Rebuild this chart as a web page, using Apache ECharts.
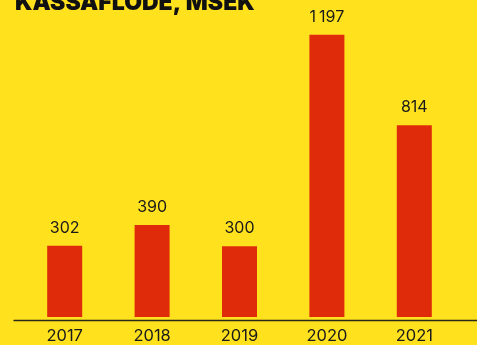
<!DOCTYPE html>
<html>
<head>
<meta charset="utf-8">
<style>
  html, body { margin: 0; padding: 0; background: #FFE11E; }
  #chart { width: 477px; height: 345px; }
</style>
<script src="https://cdn.jsdelivr.net/npm/echarts@6/dist/echarts.min.js"></script>
</head>
<body>
<div id="chart"></div>
<script>
// Cash flow per year, MSEK
const years = ['2017', '2018', '2019', '2020', '2021'];
const cashFlow = [302, 390, 300, 1197, 814];
const title = 'KASSAFLÖDE, MSEK';

const chart = echarts.init(document.getElementById('chart'), null, { renderer: 'canvas' });

// thousands separated by a thin space, e.g. "1 197"
const fmt = v => String(v).replace(/\B(?=(\d{3})+(?!\d))/g, '\u2009');

chart.setOption({
  backgroundColor: '#FFE11E',
  animation: false,
  title: {
    text: title,
    left: 10,
    top: -13,
    textStyle: {
      fontFamily: 'Inter',
      fontWeight: 900,
      fontSize: 23,
      color: '#111'
    }
  },
  grid: [
    { left: 21, right: 19, top: 20, bottom: 25 },
    { left: 14, right: 0, top: 20, bottom: 25 }
  ],
  xAxis: [
    {
      type: 'category',
      gridIndex: 0,
      data: years,
      axisLine: { show: false },
      axisTick: { show: false },
      axisLabel: {
        margin: 11,
        fontFamily: 'Inter',
        fontSize: 16.5,
        color: '#1a1a1a'
      }
    },
    {
      // baseline running across the full width
      type: 'value',
      gridIndex: 1,
      axisLine: { show: true, lineStyle: { color: '#2a2a14', width: 1.3 } },
      axisTick: { show: false },
      axisLabel: { show: false },
      splitLine: { show: false }
    }
  ],
  yAxis: [
    { type: 'value', gridIndex: 0, min: 0, max: 1260, show: false },
    { type: 'value', gridIndex: 1, show: false }
  ],
  series: [{
    type: 'bar',
    xAxisIndex: 0,
    yAxisIndex: 0,
    data: cashFlow,
    barWidth: 35,
    itemStyle: { color: '#DF2B0A' },
    label: {
      show: true,
      position: 'top',
      distance: 10,
      fontFamily: 'Inter',
      fontSize: 16,
      color: '#1a1a1a',
      formatter: p => fmt(p.value)
    }
  }]
});
</script>
</body>
</html>
